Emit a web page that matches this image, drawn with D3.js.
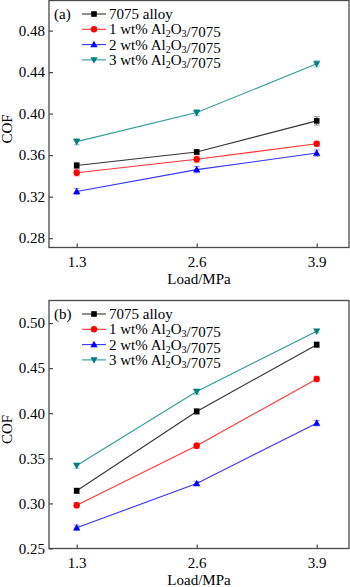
<!DOCTYPE html>
<html>
<head>
<meta charset="utf-8">
<script src="https://cdn.jsdelivr.net/npm/d3@7"></script>
<style>
  body { margin: 0; background: #fff; }
  svg { display: block; font-family: "Liberation Serif", "Times New Roman", serif; }
</style>
</head>
<body>
<div id="chart"></div>
<script>
// x categories (applied load, MPa)
const loads = [1.3, 2.6, 3.9];
const loadTicks = [1.3, 2.6, 3.9];

const seriesLabels = ["7075 alloy", "1 wt% Al2O3/7075", "2 wt% Al2O3/7075", "3 wt% Al2O3/7075"];

// panel (a)
const cofA_7075 = [0.350, 0.363, 0.393];
const cofA_1wt = [0.343, 0.356, 0.371];
const cofA_2wt = [0.325, 0.346, 0.362];
const cofA_3wt = [0.373, 0.401, 0.448];
const errA_7075 = [0.003, 0.002, 0.004];
const errA_1wt = [0.003, 0.003, 0.002];
const errA_2wt = [0.003, 0.003, 0.003];
const errA_3wt = [0.003, 0.003, 0.003];
const ticksA = [0.28, 0.32, 0.36, 0.40, 0.44, 0.48];

// panel (b)
const cofB_7075 = [0.314, 0.402, 0.476];
const cofB_1wt = [0.298, 0.364, 0.438];
const cofB_2wt = [0.273, 0.322, 0.389];
const cofB_3wt = [0.342, 0.424, 0.491];
const errB_7075 = [0.003, 0.003, 0.003];
const errB_1wt = [0.003, 0.003, 0.003];
const errB_2wt = [0.003, 0.002, 0.003];
const errB_3wt = [0.003, 0.003, 0.002];
const ticksB = [0.25, 0.30, 0.35, 0.40, 0.45, 0.50];

const colors = ["#000000", "#ff0000", "#0000ff", "#008080"];
const symbols = ["square", "circle", "triUp", "triDown"];

const width = 350, height = 587;
const svg = d3.select("#chart").append("svg")
  .attr("width", width)
  .attr("height", height);

const x = d3.scaleLinear().domain([1.0, 4.25]).range([49, 349]);

function drawMarker(g, type, cx, cy, color) {
  if (type === "square") {
    g.append("rect").attr("x", cx - 2.8).attr("y", cy - 2.8)
      .attr("width", 5.6).attr("height", 5.6).attr("fill", color);
  } else if (type === "circle") {
    g.append("circle").attr("cx", cx).attr("cy", cy).attr("r", 3.2).attr("fill", color);
  } else if (type === "triUp") {
    g.append("path").attr("d", `M${cx},${cy - 3.8}L${cx + 3.6},${cy + 2.6}L${cx - 3.6},${cy + 2.6}Z`)
      .attr("fill", color);
  } else {
    g.append("path").attr("d", `M${cx},${cy + 3.8}L${cx + 3.6},${cy - 2.6}L${cx - 3.6},${cy - 2.6}Z`)
      .attr("fill", color);
  }
}

// writes "Al2O3" with subscripts
function richLabel(textSel, label) {
  const parts = label.split(/(Al2O3)/);
  parts.forEach((p) => {
    if (p === "Al2O3") {
      textSel.append("tspan").text("Al");
      textSel.append("tspan").attr("dy", 3).attr("font-size", 10).text("2");
      textSel.append("tspan").attr("dy", -3).text("O");
      textSel.append("tspan").attr("dy", 3).attr("font-size", 10).text("3");
      textSel.append("tspan").attr("dy", -3).text("");
    } else if (p.length) {
      textSel.append("tspan").text(p);
    }
  });
}

function drawPanel(opt) {
  const y = d3.scaleLinear().domain(opt.domain).range([opt.bottom, opt.top]);
  const g = svg.append("g");
  const left = x.range()[0], right = x.range()[1];
  const axisColor = "#4a4a4a";

  // frame
  g.append("rect")
    .attr("x", left).attr("y", opt.top)
    .attr("width", right - left).attr("height", opt.bottom - opt.top)
    .attr("fill", "none").attr("stroke", axisColor).attr("stroke-width", 1.3);

  // y ticks (inward)
  const yAxis = g.append("g").attr("transform", `translate(${left},0)`)
    .call(d3.axisRight(y).tickValues(opt.ticks).tickSize(4).tickFormat(d3.format(".2f")));
  yAxis.select(".domain").remove();
  yAxis.selectAll(".tick line").attr("stroke", axisColor).attr("stroke-width", 1.2);
  yAxis.selectAll(".tick text")
    .attr("x", -4).attr("text-anchor", "end")
    .attr("font-size", 15).attr("fill", "#000")
    .attr("font-family", "Liberation Serif");

  // x ticks (inward)
  const xAxis = g.append("g").attr("transform", `translate(0,${opt.bottom})`)
    .call(d3.axisTop(x).tickValues(loadTicks).tickSize(4).tickFormat(d3.format(".1f")));
  xAxis.select(".domain").remove();
  xAxis.selectAll(".tick line").attr("stroke", axisColor).attr("stroke-width", 1.2);
  xAxis.selectAll(".tick text")
    .attr("y", 19.5).attr("dy", null)
    .attr("font-size", 15).attr("fill", "#000")
    .attr("font-family", "Liberation Serif");

  // axis titles
  g.append("text")
    .attr("x", (left + right) / 2).attr("y", opt.bottom + 36)
    .attr("text-anchor", "middle").attr("font-size", 15)
    .text("Load/MPa");
  g.append("text")
    .attr("transform", `translate(12,${(opt.top + opt.bottom) / 2 + 5}) rotate(-90)`)
    .attr("text-anchor", "middle").attr("font-size", 15)
    .text("COF");

  // series
  const line = d3.line().x((d) => x(d[0])).y((d) => y(d[1]));
  opt.series.forEach((vals, i) => {
    const pts = loads.map((l, j) => [l, vals[j]]);
    g.append("path").datum(pts)
      .attr("d", line).attr("fill", "none")
      .attr("stroke", colors[i]).attr("stroke-width", 1.1).attr("stroke-opacity", 0.8);
    pts.forEach((p, j) => {
      const e = opt.errors[i][j];
      const cx = x(p[0]);
      const eb = g.append("g").attr("stroke", colors[i]).attr("stroke-opacity", 0.45).attr("stroke-width", 1);
      eb.append("line").attr("x1", cx).attr("x2", cx).attr("y1", y(p[1] - e)).attr("y2", y(p[1] + e));
      eb.append("line").attr("x1", cx - 3).attr("x2", cx + 3).attr("y1", y(p[1] - e)).attr("y2", y(p[1] - e));
      eb.append("line").attr("x1", cx - 3).attr("x2", cx + 3).attr("y1", y(p[1] + e)).attr("y2", y(p[1] + e));
      drawMarker(g, symbols[i], cx, y(p[1]), colors[i]);
    });
  });

  // panel tag
  g.append("text").attr("x", 54).attr("y", opt.legendTop + 5)
    .attr("font-size", 15).text(opt.tag);

  // legend
  seriesLabels.forEach((lab, i) => {
    const ly = opt.legendTop + i * 15.3;
    g.append("line").attr("x1", 82).attr("x2", 106).attr("y1", ly).attr("y2", ly)
      .attr("stroke", colors[i]).attr("stroke-width", 1.1).attr("stroke-opacity", 0.8);
    drawMarker(g, symbols[i], 94, ly, colors[i]);
    const t = g.append("text").attr("x", 109).attr("y", ly + 5).attr("font-size", 15);
    richLabel(t, lab);
  });
}

drawPanel({
  tag: "(a)",
  top: 0.5, bottom: 247.5,
  domain: [0.271, 0.509],
  ticks: ticksA,
  legendTop: 14,
  series: [cofA_7075, cofA_1wt, cofA_2wt, cofA_3wt],
  errors: [errA_7075, errA_1wt, errA_2wt, errA_3wt]
});

drawPanel({
  tag: "(b)",
  top: 300.5, bottom: 548.5,
  domain: [0.25, 0.525],
  ticks: ticksB,
  legendTop: 314,
  series: [cofB_7075, cofB_1wt, cofB_2wt, cofB_3wt],
  errors: [errB_7075, errB_1wt, errB_2wt, errB_3wt]
});
</script>
</body>
</html>
